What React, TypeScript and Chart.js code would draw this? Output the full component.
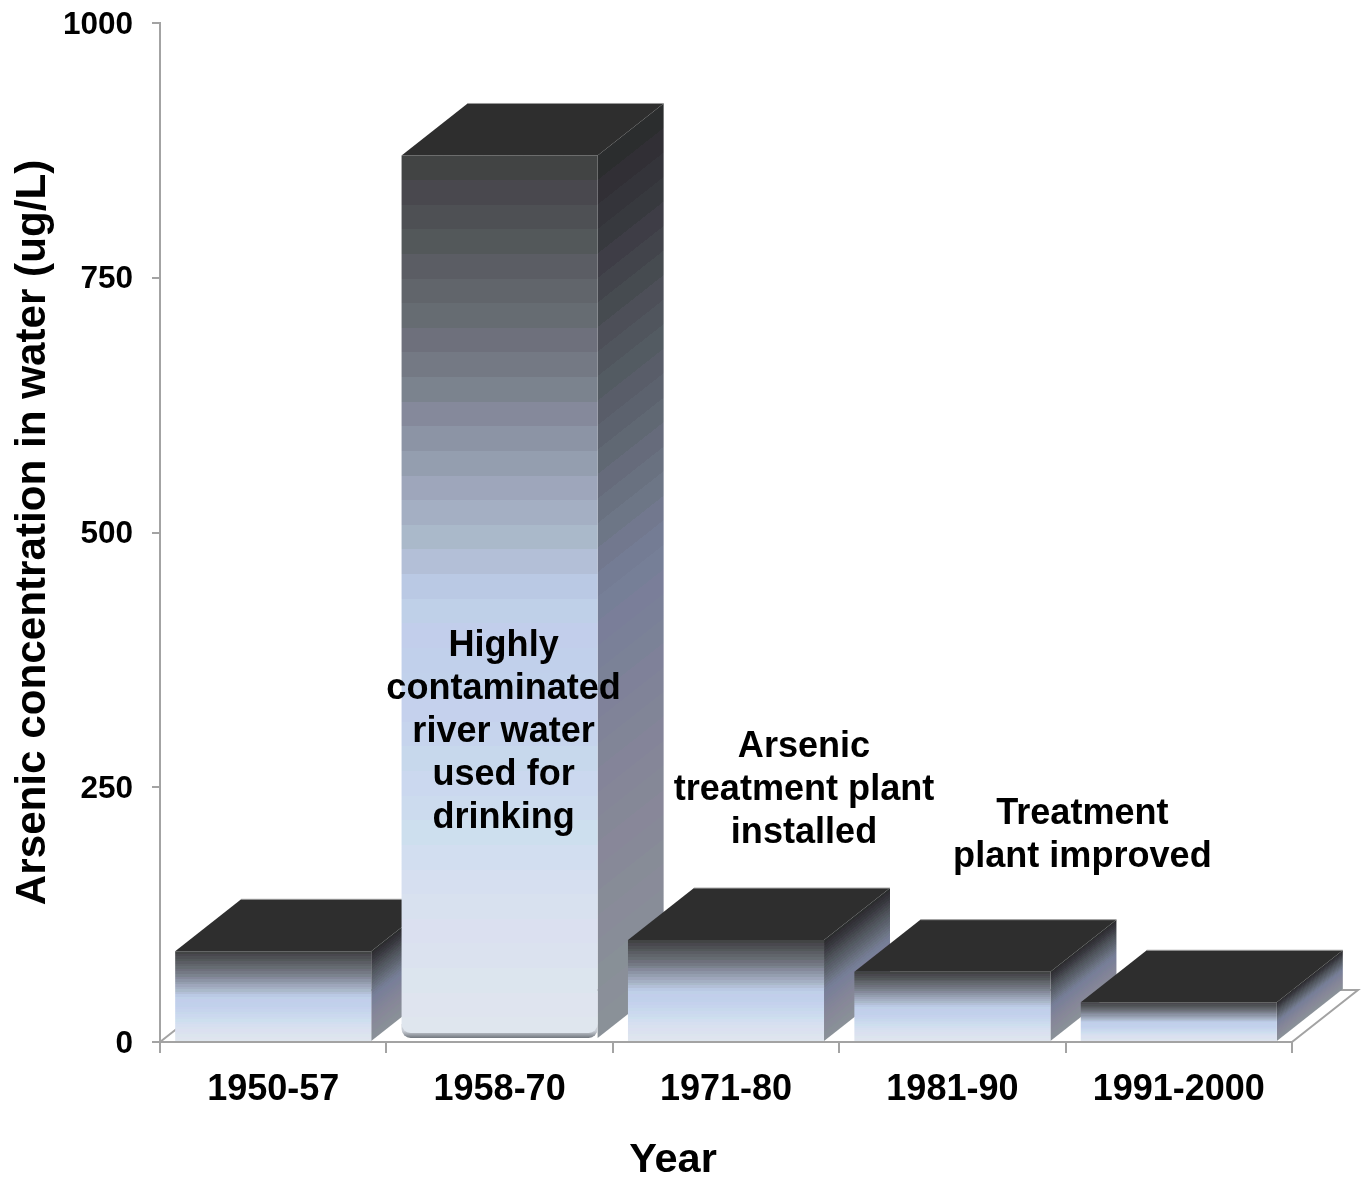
import React, { useEffect, useRef } from "react";
import { Chart, registerables } from "chart.js";

Chart.register(...registerables);

const periods = ["1950-57", "1958-70", "1971-80", "1981-90", "1991-2000"];
const arsenicValues = [89, 870, 100, 69, 39];
const yTicks = [0, 250, 500, 750, 1000];
const yTitle = "Arsenic concentration in water (ug/L)";
const xTitle = "Year";
const noteRiver = ["Highly", "contaminated", "river water", "used for", "drinking"];
const notePlant = ["Arsenic", "treatment plant", "installed"];
const noteImproved = ["Treatment", "plant improved"];

const FONT = '"Liberation Sans", Arial, sans-serif';
const PLOT_TOP = 23;
const DEPTH_X = 66;
const DEPTH_Y = 52;
const AXIS = "#a3a3a3";
const TOP = "#2e2e2e";

type Stop = [number, number[]];
const frontStops: Stop[] = [
  [0, [64, 64, 64]],
  [0.03, [70, 70, 74]],
  [0.107, [86, 90, 94]],
  [0.22, [112, 116, 126]],
  [0.3, [134, 141, 157]],
  [0.37, [156, 165, 185]],
  [0.445, [174, 188, 207]],
  [0.48, [184, 198, 226]],
  [0.5, [192, 207, 232]],
  [0.6, [194, 208, 236]],
  [0.78, [207, 223, 239]],
  [0.83, [216, 223, 240]],
  [1, [224, 231, 238]],
];
const sideStops: Stop[] = [
  [0, [42, 42, 44]],
  [0.1, [56, 56, 64]],
  [0.22, [78, 83, 90]],
  [0.33, [94, 100, 112]],
  [0.445, [112, 120, 138]],
  [0.5, [118, 126, 152]],
  [0.75, [134, 134, 152]],
  [1, [138, 146, 152]],
];

function colorAt(stops: Stop[], t: number, tint: number) {
  let c = stops[stops.length - 1][1];
  for (let i = 1; i < stops.length; i++) {
    if (t <= stops[i][0]) {
      const [a, ca] = stops[i - 1];
      const [b, cb] = stops[i];
      const f = (t - a) / (b - a);
      c = ca.map((v, k) => v + (cb[k] - v) * f);
      break;
    }
  }
  return `rgb(${Math.round(c[0] + tint)},${Math.round(c[1] - tint)},${Math.round(c[2] + tint)})`;
}

function banded(g: CanvasGradient, stops: Stop[], bands: number) {
  for (let k = 0; k < bands; k++) {
    const c = colorAt(stops, (k + 0.5) / bands, k % 3 === 0 ? -1 : k % 3 === 1 ? 1 : 0);
    g.addColorStop(k / bands, c);
    g.addColorStop((k + 1) / bands, c);
  }
  return g;
}

const bar3d = {
  id: "bar3d",
  afterLayout(chart: any) {
    const { chartArea, scales } = chart;
    const ys = scales.y;
    ys.top = PLOT_TOP;
    ys.height = ys.bottom - PLOT_TOP;
    ys.configure();
    chartArea.top = PLOT_TOP;
    chartArea.height = chartArea.bottom - PLOT_TOP;
  },
  beforeDatasetsDraw(chart: any) {
    const { ctx, chartArea } = chart;
    const { left, right, bottom } = chartArea;
    ctx.save();
    ctx.strokeStyle = AXIS;
    ctx.lineWidth = 2;
    ctx.beginPath();
    ctx.moveTo(left, bottom);
    ctx.lineTo(left + DEPTH_X, bottom - DEPTH_Y);
    ctx.lineTo(right + DEPTH_X, bottom - DEPTH_Y);
    ctx.lineTo(right, bottom);
    ctx.stroke();
    ctx.restore();
  },
  beforeDatasetDraw(chart: any, args: any) {
    const { ctx } = chart;
    const meta = chart.getDatasetMeta(args.index);
    meta.data.forEach((bar: any, i: number) => {
      const w = bar.width;
      const l = bar.x - w / 2;
      const r = bar.x + w / 2;
      const t = bar.y;
      const lift = i === 1 ? 3 : 0;
      const b = bar.base - lift;
      const h = b - t;
      const n = DEPTH_X * DEPTH_X + DEPTH_Y * DEPTH_Y;
      const k = (h * DEPTH_X) / n;
      const side = ctx.createLinearGradient(r, t, r + DEPTH_Y * k, t + DEPTH_X * k);
      banded(side, sideStops, 36);
      ctx.save();
      ctx.fillStyle = side;
      ctx.beginPath();
      ctx.moveTo(r, t);
      ctx.lineTo(r + DEPTH_X, t - DEPTH_Y);
      ctx.lineTo(r + DEPTH_X, b - DEPTH_Y);
      ctx.lineTo(r, b);
      ctx.closePath();
      ctx.fill();
      ctx.fillStyle = TOP;
      ctx.beginPath();
      ctx.moveTo(l, t);
      ctx.lineTo(l + DEPTH_X, t - DEPTH_Y);
      ctx.lineTo(r + DEPTH_X, t - DEPTH_Y);
      ctx.lineTo(r, t);
      ctx.closePath();
      ctx.fill();
      ctx.strokeStyle = "#9a9a9a";
      ctx.lineWidth = 1;
      ctx.beginPath();
      ctx.moveTo(l + DEPTH_X, t - DEPTH_Y);
      ctx.lineTo(r + DEPTH_X, t - DEPTH_Y);
      ctx.stroke();
      ctx.restore();
      const base = bar.base;
      if (lift) {
        const shade = ctx.createLinearGradient(0, b - 7, 0, b);
        shade.addColorStop(0, "#c9ced6");
        shade.addColorStop(1, "#71777e");
        ctx.save();
        ctx.fillStyle = shade;
        ctx.beginPath();
        ctx.roundRect(l, b - 14, w, 14, [0, 0, 9, 9]);
        ctx.fill();
        ctx.restore();
        bar.base = b - 5;
      }
      bar.draw(ctx);
      bar.base = base;
    });
    return false;
  },
  afterDatasetsDraw(chart: any) {
    const { ctx, scales } = chart;
    const { x, y } = scales;
    ctx.save();
    ctx.fillStyle = "#000";
    ctx.textAlign = "center";
    ctx.textBaseline = "middle";
    ctx.font = `bold 36.1px ${FONT}`;
    const note = (lines: string[], cx: number, value: number) => {
      lines.forEach((s, i) => ctx.fillText(s, cx, y.getPixelForValue(value) + i * 43));
    };
    note(noteRiver, x.getPixelForValue(1) + 4, 389);
    note(notePlant, x.getPixelForValue(2) + 78, 289);
    note(noteImproved, x.getPixelForValue(3) + 130, 223.5);
    const t = chart.options.scales.x.title;
    ctx.font = `bold 41.5px ${FONT}`;
    ctx.fillText(t.text, 673, 1161);
    ctx.restore();
  },
};

export default function App() {
  const ref = useRef<HTMLCanvasElement>(null);
  useEffect(() => {
    const chart = new Chart(ref.current as HTMLCanvasElement, {
      type: "bar",
      plugins: [bar3d as any],
      data: {
        labels: periods,
        datasets: [
          {
            label: "Arsenic concentration",
            data: arsenicValues,
            barPercentage: 0.866,
            categoryPercentage: 1,
            borderSkipped: false,
            borderWidth: 0,
            borderRadius: (c: any) =>
              c.dataIndex === 1 ? { topLeft: 0, topRight: 0, bottomLeft: 9, bottomRight: 9 } : 0,
            backgroundColor: (c: any) => {
              const ch = c.chart;
              const ys = ch.scales.y;
              if (!ys || c.dataIndex === undefined) return "#bbb";
              const top = ys.getPixelForValue(arsenicValues[c.dataIndex]);
              const bot = ys.getPixelForValue(0);
              if (!Number.isFinite(top) || !Number.isFinite(bot)) return "#bbb";
              const g = ch.ctx.createLinearGradient(0, top, 0, bot);
              return banded(g, frontStops, 36);
            },
          },
        ],
      } as any,
      options: {
        responsive: false,
        animation: false,
        layout: { padding: { top: PLOT_TOP, right: 73, left: 0, bottom: 0 }, autoPadding: false },
        plugins: { legend: { display: false }, tooltip: { enabled: false } },
        scales: {
          x: {
            afterFit: (s: any) => {
              s.height = 135;
            },
            border: { color: AXIS, width: 2 },
            grid: { drawOnChartArea: false, color: AXIS, lineWidth: 2, tickLength: 11 },
            ticks: {
              color: "#000",
              padding: 15,
              autoSkip: false,
              maxRotation: 0,
              font: { family: FONT, size: 36, weight: "bold" },
            },
            title: { display: false, text: xTitle },
          },
          y: {
            min: 0,
            max: 1000,
            afterFit: (s: any) => {
              s.width = 160;
            },
            afterBuildTicks: (s: any) => {
              s.ticks = yTicks.map((value) => ({ value }));
            },
            border: { color: AXIS, width: 2 },
            grid: { drawOnChartArea: false, color: AXIS, lineWidth: 2, tickLength: 8 },
            ticks: {
              color: "#000",
              padding: 19,
              labelOffset: 2,
              callback: (v: any) => String(v),
              font: { family: FONT, size: 31.5, weight: "bold" },
            },
            title: {
              display: true,
              text: yTitle,
              color: "#000",
              padding: { top: 8, bottom: 0 },
              font: { family: FONT, size: 42.2, weight: "bold" },
            },
          },
        },
      } as any,
    });
    return () => chart.destroy();
  }, []);
  return (
    <div style={{ position: "fixed", left: 0, top: 0, width: 1365, height: 1177 }}>
      <canvas ref={ref} width={1365} height={1177} style={{ display: "block" }} />
    </div>
  );
}
